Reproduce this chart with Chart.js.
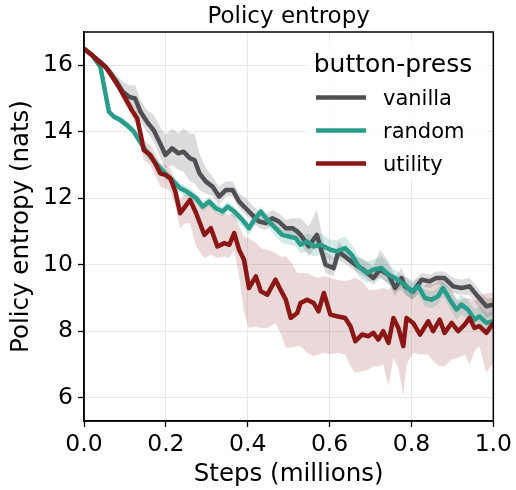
<!DOCTYPE html>
<html>
<head>
<meta charset="utf-8">
<script src="https://cdn.jsdelivr.net/npm/chart.js@4.4.1/dist/chart.umd.min.js"></script>
<style>
  html, body { margin: 0; padding: 0; background: #fff; }
  #wrap { width: 516px; height: 490px; }
</style>
</head>
<body>
<div id="wrap"><canvas id="c" width="516" height="490"></canvas></div>
<script>
// ---- data: [steps (millions), entropy (nats), band below, band above] ----
const vanilla = [
  [0,16.5,0,0],[0.02,16.3,0.05,0.05],[0.04,16.1,0.05,0.05],[0.06,15.85,0.1,0.1],
  [0.08,15.5,0.15,0.2],[0.095,15.2,0.2,0.3],[0.11,15.05,0.25,0.35],[0.125,15.0,0.3,0.4],
  [0.138,14.6,0.3,0.35],[0.154,14.3,0.3,0.35],[0.17,14.05,0.35,0.45],[0.186,13.65,0.4,0.5],
  [0.199,13.3,0.4,0.6],[0.215,13.5,0.5,0.6],[0.231,13.35,0.5,0.6],[0.243,13.4,0.6,0.7],
  [0.259,13.2,0.7,0.75],[0.27,13.15,0.7,0.8],[0.282,12.75,0.5,0.6],[0.298,12.5,0.35,0.4],
  [0.314,12.35,0.3,0.3],[0.33,12.05,0.25,0.3],[0.347,12.25,0.2,0.25],[0.363,12.25,0.2,0.25],
  [0.379,11.9,0.2,0.25],[0.395,11.7,0.2,0.3],[0.411,11.5,0.2,0.3],[0.428,11.3,0.2,0.3],
  [0.444,11.25,0.2,0.25],[0.46,11.4,0.2,0.25],[0.476,11.3,0.2,0.25],[0.493,11.1,0.2,0.25],
  [0.509,11.1,0.2,0.3],[0.521,11.0,0.25,0.4],[0.529,10.9,0.25,0.5],[0.549,10.55,0.3,0.6],
  [0.569,10.9,0.3,0.75],[0.59,10.0,0.25,0.4],[0.61,9.9,0.25,0.3],[0.622,10.4,0.25,0.3],
  [0.642,10.2,0.2,0.25],[0.663,10.0,0.2,0.25],[0.683,9.85,0.2,0.3],[0.707,9.6,0.2,0.35],
  [0.723,9.85,0.25,0.6],[0.744,9.7,0.25,0.4],[0.76,9.3,0.25,0.3],[0.776,9.6,0.25,0.3],
  [0.784,9.35,0.25,0.3],[0.804,9.2,0.25,0.3],[0.825,9.55,0.2,0.2],[0.845,9.5,0.2,0.2],
  [0.861,9.6,0.2,0.2],[0.881,9.6,0.2,0.2],[0.902,9.35,0.2,0.25],[0.922,9.3,0.2,0.25],
  [0.942,9.35,0.25,0.25],[0.962,9.05,0.3,0.25],[0.983,8.75,0.35,0.25],[1.0,8.8,0.3,0.2]
];
const random = [
  [0,16.5,0,0],[0.02,16.3,0.05,0.05],[0.04,15.95,0.05,0.05],[0.061,14.6,0.1,0.1],
  [0.073,14.45,0.1,0.1],[0.089,14.35,0.1,0.1],[0.105,14.2,0.12,0.12],[0.122,14.0,0.12,0.12],
  [0.134,13.75,0.12,0.12],[0.15,13.45,0.15,0.15],[0.166,13.2,0.15,0.15],[0.182,12.95,0.15,0.15],
  [0.202,12.7,0.15,0.15],[0.219,12.5,0.15,0.15],[0.235,12.3,0.15,0.15],[0.251,12.2,0.15,0.15],
  [0.263,12.1,0.15,0.15],[0.274,12.0,0.15,0.15],[0.29,11.75,0.15,0.15],[0.306,11.9,0.15,0.15],
  [0.322,11.7,0.15,0.15],[0.339,11.6,0.15,0.15],[0.351,11.75,0.15,0.15],[0.367,11.6,0.2,0.15],
  [0.387,11.35,0.2,0.15],[0.403,11.1,0.2,0.15],[0.416,11.35,0.2,0.15],[0.432,11.6,0.2,0.15],
  [0.448,11.35,0.2,0.15],[0.468,11.1,0.25,0.15],[0.484,10.9,0.25,0.15],[0.5,10.85,0.25,0.2],
  [0.517,10.8,0.25,0.2],[0.529,10.6,0.25,0.2],[0.545,10.7,0.3,0.25],[0.561,10.55,0.3,0.3],
  [0.578,10.6,0.3,0.35],[0.602,10.45,0.3,0.3],[0.618,10.4,0.25,0.35],[0.638,10.5,0.25,0.35],
  [0.654,10.3,0.25,0.3],[0.671,9.95,0.3,0.3],[0.691,9.75,0.3,0.35],[0.707,9.85,0.3,0.3],
  [0.727,9.9,0.3,0.35],[0.744,9.7,0.3,0.3],[0.76,9.6,0.25,0.25],[0.776,9.45,0.25,0.25],
  [0.784,9.4,0.25,0.25],[0.8,9.2,0.25,0.25],[0.817,9.35,0.25,0.25],[0.833,9.0,0.25,0.25],
  [0.849,8.95,0.25,0.25],[0.865,9.05,0.25,0.25],[0.877,9.3,0.25,0.25],[0.894,8.95,0.25,0.3],
  [0.91,8.65,0.3,0.3],[0.922,8.8,0.3,0.3],[0.938,8.65,0.3,0.3],[0.954,8.35,0.3,0.3],
  [0.966,8.45,0.3,0.3],[0.983,8.25,0.3,0.3],[1.0,8.3,0.3,0.3]
];
const utility = [
  [0,16.5,0,0],[0.02,16.3,0.05,0.05],[0.036,16.1,0.05,0.05],[0.053,15.95,0.1,0.1],
  [0.069,15.65,0.1,0.1],[0.085,15.35,0.15,0.15],[0.101,15.0,0.2,0.15],[0.117,14.65,0.2,0.2],
  [0.13,14.4,0.25,0.2],[0.138,13.95,0.3,0.25],[0.146,13.45,0.3,0.3],[0.162,13.3,0.3,0.3],
  [0.174,13.05,0.35,0.3],[0.186,12.75,0.4,0.3],[0.199,12.7,0.4,0.3],[0.211,12.6,0.4,0.3],
  [0.223,12.2,0.45,0.35],[0.235,11.55,0.45,0.4],[0.247,11.75,0.5,0.4],[0.259,11.95,0.7,0.3],
  [0.274,11.55,1.0,0.4],[0.294,10.9,0.7,0.9],[0.31,11.1,0.8,0.7],[0.326,10.55,0.35,1.0],
  [0.343,10.65,0.4,0.9],[0.355,10.6,0.4,0.9],[0.367,10.95,0.5,0.6],[0.379,10.45,0.8,0.7],
  [0.391,10.15,1.6,0.7],[0.403,9.3,1.2,1.5],[0.42,9.65,1.5,1.0],[0.432,9.2,1.1,1.3],
  [0.448,9.1,1.0,1.35],[0.468,9.55,1.3,0.8],[0.48,9.25,1.3,1.0],[0.493,8.95,1.45,1.3],
  [0.505,8.4,0.9,1.7],[0.521,8.55,1.0,1.2],[0.529,8.85,1.3,0.9],[0.545,8.95,1.6,0.8],
  [0.561,8.85,1.6,0.8],[0.573,8.6,1.3,1.0],[0.586,9.15,1.8,0.5],[0.602,8.5,1.2,1.1],
  [0.618,8.45,1.1,1.1],[0.638,8.4,1.1,1.1],[0.651,8.15,1.2,1.4],[0.663,7.7,0.95,1.9],
  [0.679,7.9,1.1,1.6],[0.695,7.85,1.0,1.4],[0.707,7.95,1.0,1.3],[0.719,7.75,0.8,1.5],
  [0.731,8.0,1.0,1.3],[0.744,7.65,1.3,1.6],[0.756,8.4,1.2,1.0],[0.768,8.1,1.2,1.3],
  [0.78,7.55,1.5,1.8],[0.788,8.4,1.4,0.9],[0.804,8.25,0.9,1.0],[0.821,7.9,0.6,1.3],
  [0.841,8.3,1.0,1.2],[0.853,8.0,0.9,1.4],[0.869,8.35,1.4,1.2],[0.881,7.95,1.0,1.5],
  [0.898,8.25,1.1,1.0],[0.914,8.0,0.8,0.9],[0.93,8.2,0.9,0.8],[0.942,8.4,1.4,0.6],
  [0.954,8.1,0.7,0.8],[0.966,8.15,0.6,0.9],[0.983,7.95,1.2,1.2],[1.0,8.25,1.2,0.9]
];
const seriesNames = ['vanilla', 'random', 'utility'];
const xTicks = [0, 0.2, 0.4, 0.6, 0.8, 1.0];
const xTickLabels = ['0.0', '0.2', '0.4', '0.6', '0.8', '1.0'];
const yTicks = [6, 8, 10, 12, 14, 16];
const yTickLabels = ['6', '8', '10', '12', '14', '16'];
const chartTitle = 'Policy entropy';
const xTitle = 'Steps (millions)';
const yTitle = 'Policy entropy (nats)';
const legendTitle = 'button-press';

// ---- styles ----
const lineColors = ['#4f4f54', '#2a9d8a', '#8a1616'];
const bandColors = ['rgba(80,80,85,0.2)', 'rgba(42,157,138,0.2)', 'rgba(138,22,22,0.17)'];
const FONT = "'DejaVu Sans', sans-serif";

const allSeries = [vanilla, random, utility];
const datasets = [];
// bands (drawn first, behind lines)
allSeries.forEach((s, i) => {
  datasets.push({
    label: '', data: s.map(r => ({x: r[0], y: r[1] - r[2]})),
    borderWidth: 0, pointRadius: 0, fill: false, order: 10 + i, isBand: true
  });
  datasets.push({
    label: '', data: s.map(r => ({x: r[0], y: r[1] + r[3]})),
    borderWidth: 0, pointRadius: 0, fill: '-1', backgroundColor: bandColors[i],
    order: 10 + i, isBand: true
  });
});
// mean lines
allSeries.forEach((s, i) => {
  datasets.push({
    label: seriesNames[i], data: s.map(r => ({x: r[0], y: r[1]})),
    borderColor: lineColors[i], borderWidth: 4.5, pointRadius: 0, fill: false,
    tension: 0, order: 2 - i, borderJoinStyle: 'round', borderCapStyle: 'butt'
  });
});

const decor = {
  id: 'decor',
  afterDraw(chart) {
    const ctx = chart.ctx;
    const a = chart.chartArea;
    ctx.save();
    // frame
    ctx.strokeStyle = '#000';
    ctx.lineWidth = 1.5;
    ctx.strokeRect(a.left, a.top, a.right - a.left, a.bottom - a.top);
    // titles
    ctx.fillStyle = '#000';
    ctx.textAlign = 'center';
    ctx.textBaseline = 'alphabetic';
    const cx = (a.left + a.right) / 2;
    ctx.font = '23px ' + FONT;
    ctx.fillText(chartTitle, cx, 23);
    ctx.font = '24.5px ' + FONT;
    ctx.fillText(xTitle, cx, 481);
    ctx.save();
    ctx.translate(27.5, (a.top + a.bottom) / 2);
    ctx.rotate(-Math.PI / 2);
    ctx.fillText(yTitle, 0, 0);
    ctx.restore();
    // legend
    ctx.fillStyle = 'rgba(255,255,255,0.8)';
    ctx.fillRect(306, 41, 182, 139);
    ctx.fillStyle = '#000';
    ctx.font = '25px ' + FONT;
    ctx.textAlign = 'center';
    ctx.fillText(legendTitle, 393, 72);
    const lineDs = chart.data.datasets.filter(d => !d.isBand);
    ctx.font = '21px ' + FONT;
    ctx.textAlign = 'left';
    lineDs.forEach((d, i) => {
      const yMid = 97.5 + i * 33;
      ctx.strokeStyle = d.borderColor;
      ctx.lineWidth = 4.5;
      ctx.beginPath();
      ctx.moveTo(316, yMid);
      ctx.lineTo(366, yMid);
      ctx.stroke();
      ctx.fillStyle = '#000';
      ctx.fillText(d.label, 383, 105 + i * 33);
    });
    ctx.restore();
  }
};

new Chart(document.getElementById('c'), {
  type: 'line',
  data: { datasets },
  options: {
    responsive: false,
    animation: false,
    events: [],
    layout: { padding: { top: 32, right: 20.5, left: 0, bottom: 0 } },
    plugins: { legend: { display: false }, title: { display: false }, tooltip: { enabled: false } },
    scales: {
      x: {
        type: 'linear', min: 0, max: 1,
        afterBuildTicks: s => { s.ticks = xTicks.map(v => ({value: v})); },
        afterFit: s => { s.height = 69; },
        ticks: {
          callback: (v, i) => xTickLabels[i],
          font: { family: FONT, size: 23.5 }, color: '#000', padding: 4, maxRotation: 0
        },
        grid: { color: '#e8e8e8', lineWidth: 1, drawTicks: true, tickLength: 6, tickColor: '#000', tickWidth: 1.3 },
        border: { display: true, color: '#000', width: 1.5 }
      },
      y: {
        type: 'linear', min: 5.3, max: 17.0,
        afterBuildTicks: s => { s.ticks = yTicks.map(v => ({value: v})); },
        afterFit: s => { s.width = 84; },
        ticks: {
          callback: (v, i) => yTickLabels[i],
          font: { family: FONT, size: 23.5 }, color: '#000', padding: 5
        },
        grid: { color: '#e8e8e8', lineWidth: 1, drawTicks: true, tickLength: 6, tickColor: '#000', tickWidth: 1.3 },
        border: { display: true, color: '#000', width: 1.5 }
      }
    }
  },
  plugins: [decor]
});
</script>
</body>
</html>
